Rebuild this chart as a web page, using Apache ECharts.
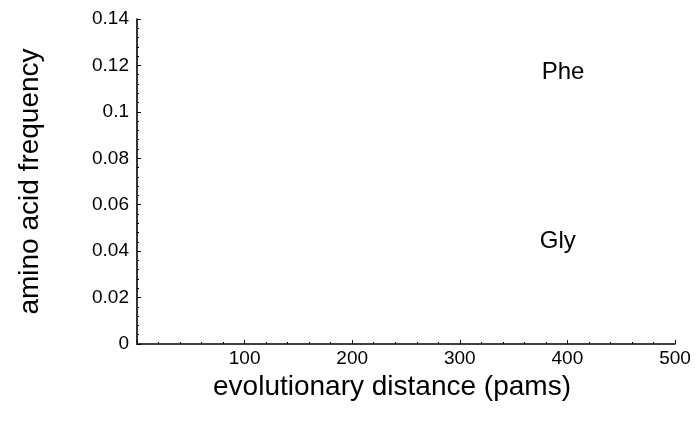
<!DOCTYPE html>
<html>
<head>
<meta charset="utf-8">
<script src="https://cdn.jsdelivr.net/npm/echarts@6/dist/echarts.min.js"></script>
<style>
  html, body { margin: 0; padding: 0; background: #fff; }
  #chart { width: 697px; height: 429px; }
</style>
</head>
<body>
<div id="chart"></div>
<script>
// axis ranges and ticks
var xTicks = [0, 100, 200, 300, 400, 500];
var yTicks = [0, 0.02, 0.04, 0.06, 0.08, 0.1, 0.12, 0.14];

// curve labels (x, y in data units)
var labelNames = ['Phe', 'Gly'];
var labelX = [396, 391];
var labelY = [0.1168, 0.0442];

var font = 'Liberation Sans, Arial, Helvetica, sans-serif';
var chart = echarts.init(document.getElementById('chart'));

var option = {
    backgroundColor: '#fff',
    animation: false,
    grid: {
        left: 137,
        right: 22,
        top: 19,
        bottom: 85
    },
    xAxis: {
        type: 'value',
        min: xTicks[0],
        max: xTicks[xTicks.length - 1],
        interval: 100,
        name: 'evolutionary distance (pams)',
        nameLocation: 'middle',
        nameGap: 27,
        nameTextStyle: { color: '#000', fontSize: 28, fontFamily: font, padding: [0, 28, 0, 0] },
        axisLine: { lineStyle: { color: '#000', width: 1.6 } },
        axisTick: { inside: true, length: 4, lineStyle: { color: '#000' } },
        minorTick: { show: true, splitNumber: 5, length: 2, lineStyle: { color: '#000' } },
        splitLine: { show: false },
        axisLabel: {
            color: '#000', fontSize: 19, fontFamily: font, margin: 5,
            formatter: function (v) { return v === 0 ? '' : String(v); }
        }
    },
    yAxis: {
        type: 'value',
        min: yTicks[0],
        max: yTicks[yTicks.length - 1],
        interval: 0.02,
        name: 'amino acid frequency',
        nameLocation: 'middle',
        nameGap: 93,
        nameTextStyle: { color: '#000', fontSize: 28, fontFamily: font },
        axisLine: { lineStyle: { color: '#000', width: 1.6 } },
        axisTick: { inside: true, length: 4, lineStyle: { color: '#000' } },
        minorTick: { show: true, splitNumber: 5, length: 2, lineStyle: { color: '#000' } },
        splitLine: { show: false },
        axisLabel: {
            color: '#000', fontSize: 19, fontFamily: font, margin: 8,
            formatter: function (v) { return String(Math.round(v * 100) / 100); }
        }
    },
    series: [{
        type: 'scatter',
        symbolSize: 1,
        itemStyle: { color: 'rgba(0,0,0,0)', opacity: 1 },
        label: {
            show: true,
            position: 'inside',
            color: '#000',
            opacity: 1,
            fontSize: 24,
            fontFamily: font,
            formatter: function (p) { return labelNames[p.dataIndex]; }
        },
        data: labelX.map(function (x, i) { return [x, labelY[i]]; })
    }]
};

chart.setOption(option);
</script>
</body>
</html>
